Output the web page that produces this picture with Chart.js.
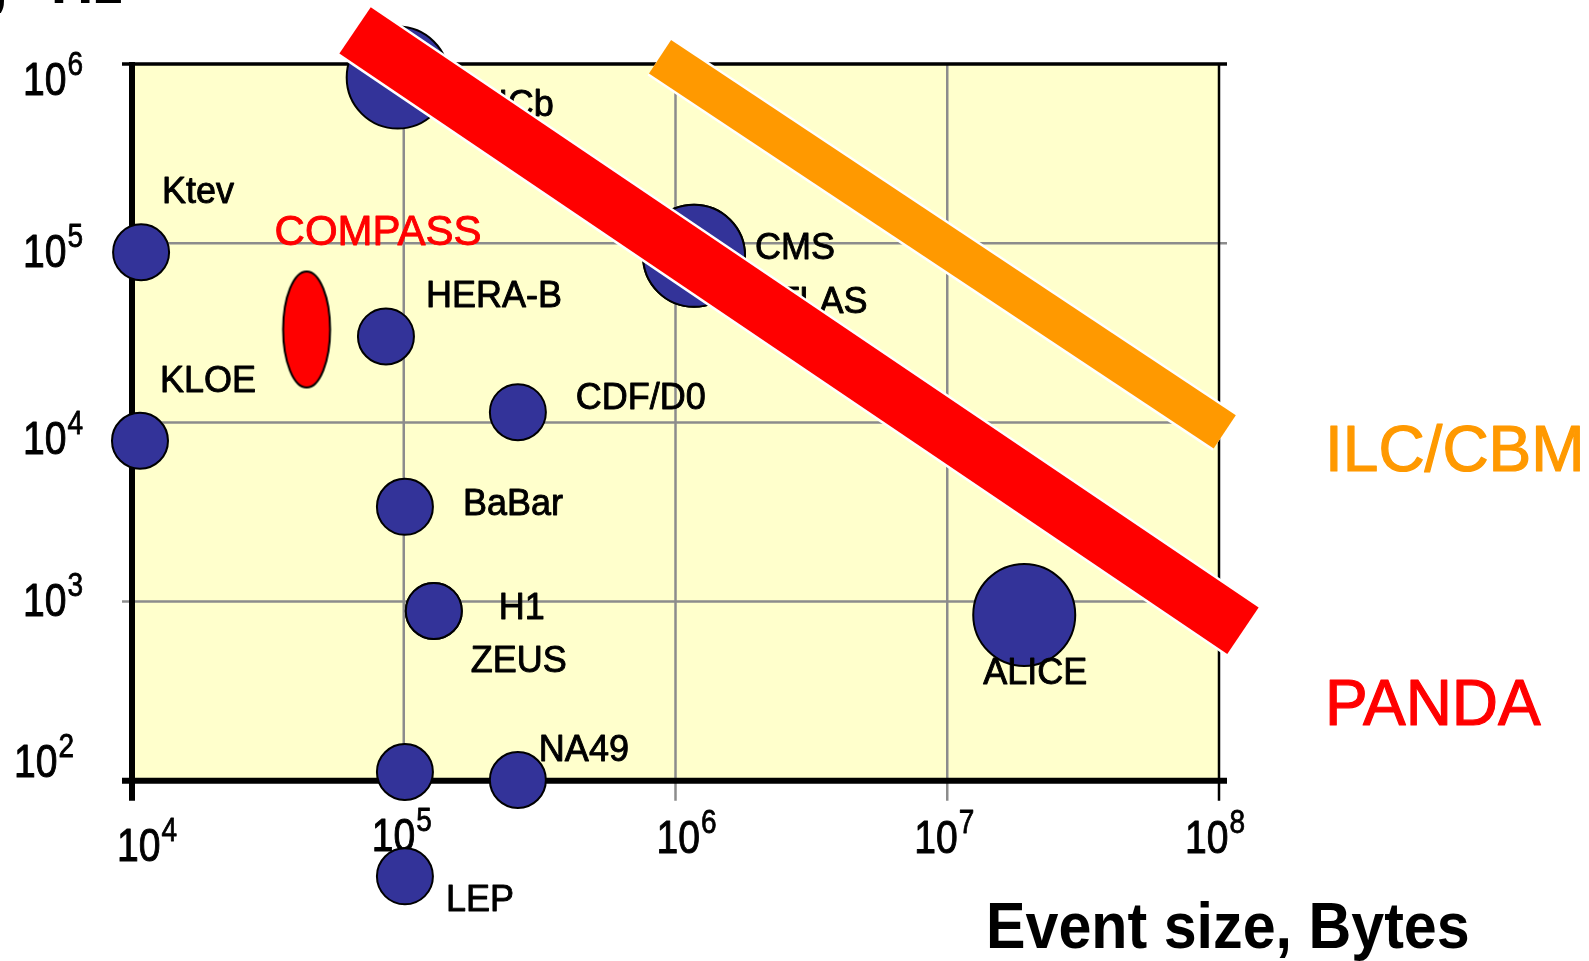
<!DOCTYPE html>
<html lang="en">
<head>
    <meta charset="UTF-8">
    <title>Event size vs rate</title>
    <script src="https://cdn.jsdelivr.net/npm/chart.js"></script>
    <style>
        body { margin: 0; background: #fff; }
        canvas { display: block; }
    </style>
</head>
<body>
    <canvas id="rateGraf" width="1589" height="961"></canvas>
    <script>
        // esperimenti: dimensione evento (byte) e rate (Hz)
        const experiments = ['Ktev', 'KLOE', 'LHCb', 'HERA-B', 'CDF/D0', 'CMS', 'ATLAS', 'BaBar', 'H1', 'ZEUS', 'ALICE', '', 'NA49', 'LEP'];
        const eventSize = [1.08e4, 1.07e4, 9.5e4, 8.6e4, 2.63e5, 1.17e6, 1.17e6, 1.01e5, 1.29e5, 1.29e5, 1.92e7, 1.01e5, 2.63e5, 1.01e5];
        const eventRate = [8.9e4, 7.9e3, 8.4e5, 3.02e4, 1.14e4, 8.5e4, 8.5e4, 3.38e3, 887, 887, 843, 112, 101, 29.3];
        const bubbleSize = [28, 28, 51, 28, 28, 51, 51, 28, 28, 28, 51, 28, 28, 28];

        const compassSize = [4.39e4];
        const compassRate = [3.3e4];

        // bande di banda passante costante
        const pandaSize = [6.62e4, 1.225e8];
        const pandaRate = [1.54e6, 687];
        const ilcSize = [8.77e5, 1.05e8];
        const ilcRate = [1.098e6, 8.85e3];

        const xTickValues = [1e4, 1e5, 1e6, 1e7, 1e8];
        const yTickValues = [1e2, 1e3, 1e4, 1e5, 1e6];

        // posizione delle etichette rispetto alle bolle (px)
        const labelOffset = [[21, -59], [20, -59], [64, 29], [40, -39], [58, -13], [61, -7], [62, 47],
            [58, -2], [65, -2], [37, 51], [-41, 59], [0, 0], [21, -29], [41, 25]];
        const xTickNudge = [[15, 8], [-2, -2], [11, 0], [-3, 0], [-4, 0]];
        const yTickNudge = [[-9, -4], [0, 14], [0, 32], [0, 24], [0, 31]];

        const FONT = '"Liberation Sans", Arial, sans-serif';

        function line(ctx, x1, y1, x2, y2) {
            ctx.beginPath();
            ctx.moveTo(x1, y1);
            ctx.lineTo(x2, y2);
            ctx.stroke();
        }

        // testo con leggero contorno per imitare il peso dell'originale
        function text(ctx, str, x, y, font, color, align, sx, weight) {
            ctx.save();
            ctx.font = font;
            ctx.fillStyle = color;
            ctx.strokeStyle = color;
            ctx.textAlign = align;
            ctx.translate(x, y);
            ctx.scale(sx, 1);
            ctx.fillText(str, 0, 0);
            if (weight) {
                ctx.lineWidth = weight;
                ctx.lineJoin = 'round';
                ctx.strokeText(str, 0, 0);
            }
            ctx.restore();
        }

        // scrive 10^n con l'esponente in alto
        function power(ctx, value, x, y, anchor) {
            const exp = String(Math.round(Math.log10(value)));
            const sx = 0.85;
            ctx.save();
            ctx.font = '46px ' + FONT;
            const w1 = ctx.measureText('10').width * sx;
            ctx.font = '33px ' + FONT;
            const w2 = ctx.measureText(exp).width * sx;
            ctx.restore();
            const total = w1 + 1 + w2;
            const left = anchor === 'center' ? x - total / 2 : x - total;
            text(ctx, '10', left, y, '46px ' + FONT, '#000', 'left', sx, 1);
            text(ctx, exp, left + w1 + 1, y - 20, '33px ' + FONT, '#000', 'left', sx, 0.8);
        }

        // ellisse rossa per COMPASS
        const compassMark = document.createElement('canvas');
        compassMark.width = 52;
        compassMark.height = 122;
        const cm = compassMark.getContext('2d');
        cm.beginPath();
        cm.ellipse(26, 61, 23.5, 58, 0, 0, 2 * Math.PI);
        cm.fillStyle = '#ff0000';
        cm.fill();
        cm.lineWidth = 2;
        cm.strokeStyle = '#000';
        cm.stroke();

        const framePlugin = {
            id: 'frame',
            beforeDatasetsDraw(chart) {
                const ctx = chart.ctx;
                const x = chart.scales.x, y = chart.scales.y;
                const L = x.getPixelForValue(xTickValues[0]);
                const R = x.getPixelForValue(xTickValues[xTickValues.length - 1]);
                const T = y.getPixelForValue(yTickValues[yTickValues.length - 1]);
                const B = y.getPixelForValue(yTickValues[0]);
                ctx.save();
                ctx.fillStyle = '#ffffcc';
                ctx.fillRect(L, T, R - L, B - T);

                // griglia
                ctx.lineCap = 'butt';
                ctx.strokeStyle = '#8c8c8c';
                ctx.lineWidth = 2.5;
                xTickValues.slice(1, -1).forEach(v => {
                    const px = x.getPixelForValue(v);
                    line(ctx, px, T, px, B + 20);
                });
                yTickValues.slice(1, -1).forEach(v => {
                    const py = y.getPixelForValue(v);
                    line(ctx, L - 10, py, R + 8, py);
                });

                // cornice
                ctx.strokeStyle = '#000';
                ctx.lineWidth = 3.5;
                line(ctx, L - 10, T, R + 8, T);
                ctx.lineWidth = 2.5;
                line(ctx, R, T, R, B + 20);
                ctx.lineWidth = 6;
                line(ctx, L, T - 2, L, B + 20);
                line(ctx, L - 10, B, R + 8, B);
                ctx.restore();

                // etichette degli assi
                xTickValues.forEach((v, i) => {
                    power(ctx, v, x.getPixelForValue(v) + xTickNudge[i][0], 853 + xTickNudge[i][1], 'center');
                });
                yTickValues.forEach((v, i) => {
                    power(ctx, v, 83 + yTickNudge[i][0], y.getPixelForValue(v) + yTickNudge[i][1], 'right');
                });

                text(ctx, 'Event size, Bytes', 986, 948, 'bold 64px ' + FONT, '#000', 'left', 0.925, 0);
                text(ctx, 'Rate,', 8, 3, 'bold 64px ' + FONT, '#000', 'right', 0.925, 0);
                text(ctx, 'Hz', 123, 3, 'bold 64px ' + FONT, '#000', 'right', 0.925, 0);

                ctx.save();
                ctx.textBaseline = 'middle';
                text(ctx, 'ILC/CBM', 1325, 453, '64px ' + FONT, '#ff9900', 'left', 1, 1.2);
                text(ctx, 'PANDA', 1325, 707, '64px ' + FONT, '#ff0000', 'left', 1, 1.2);
                ctx.restore();
            },
            afterDatasetDraw(chart, args) {
                const ctx = chart.ctx;
                ctx.save();
                ctx.textBaseline = 'middle';
                if (args.index === 0) {
                    const pts = chart.getDatasetMeta(0).data;
                    experiments.forEach((name, i) => {
                        if (!name) return;
                        text(ctx, name, pts[i].x + labelOffset[i][0], pts[i].y + labelOffset[i][1],
                            '36px ' + FONT, '#000', 'left', 1, 0.9);
                    });
                }
                if (args.index === 1) {
                    const p = chart.getDatasetMeta(1).data[0];
                    text(ctx, 'COMPASS', p.x - 32, p.y - 96, '42px ' + FONT, '#ff0000', 'left', 1, 0.9);
                }
                ctx.restore();
            }
        };

        const toPoints = (xs, ys) => xs.map((v, i) => ({ x: v, y: ys[i] }));

        function band(xs, ys, color, width, order) {
            return {
                type: 'line',
                data: toPoints(xs, ys),
                borderColor: color,
                borderWidth: width,
                borderCapStyle: 'butt',
                pointRadius: 0,
                fill: false,
                tension: 0,
                clip: false,
                order: order
            };
        }

        const ctx = document.getElementById('rateGraf').getContext('2d');
        new Chart(ctx, {
            type: 'bubble',
            data: {
                datasets: [
                    {
                        label: 'Esperimenti',
                        data: eventSize.map((v, i) => ({ x: v, y: eventRate[i], r: bubbleSize[i] })),
                        backgroundColor: '#333399',
                        borderColor: '#000',
                        borderWidth: 2,
                        clip: false,
                        order: 2
                    },
                    {
                        label: 'COMPASS',
                        data: compassSize.map((v, i) => ({ x: v, y: compassRate[i], r: 1 })),
                        pointStyle: compassMark,
                        clip: false,
                        order: 3
                    },
                    band(pandaSize, pandaRate, '#ffffff', 61, 1),
                    band(pandaSize, pandaRate, '#ff0000', 56, 0),
                    band(ilcSize, ilcRate, '#ffffff', 45, 1),
                    band(ilcSize, ilcRate, '#ff9900', 40, 0)
                ]
            },
            options: {
                responsive: false,
                devicePixelRatio: 1,
                animation: false,
                events: [],
                layout: { autoPadding: false, padding: { left: 132, right: 370, top: 64, bottom: 1 } },
                scales: {
                    x: { type: 'logarithmic', min: 1e4, max: 1e8, display: false },
                    y: { type: 'logarithmic', min: 10, max: 1e6, display: false }
                },
                plugins: {
                    legend: { display: false },
                    tooltip: { enabled: false }
                }
            },
            plugins: [framePlugin]
        });
    </script>
</body>
</html>
